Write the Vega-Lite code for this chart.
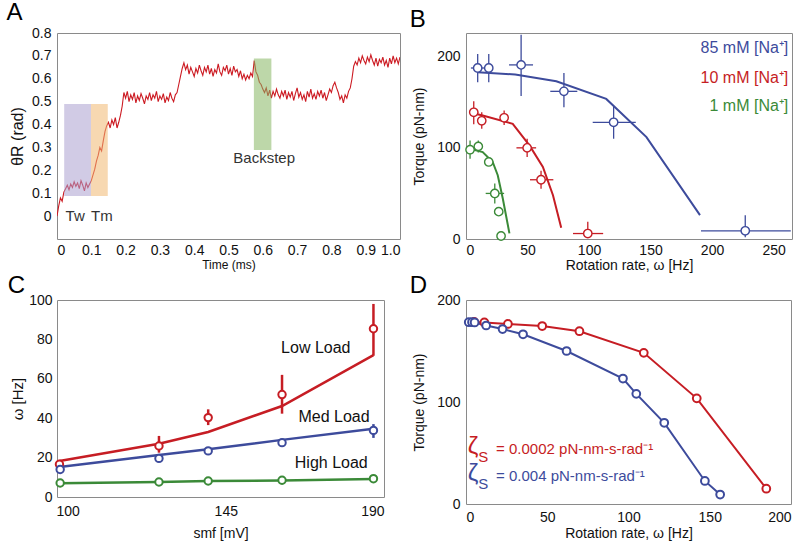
{
"$schema":"https://vega.github.io/schema/vega-lite/v6.json",
"background":"white",
"padding":{"left":6,"top":0,"right":3,"bottom":0},
"resolve":{"scale":{"color":"independent"}},
"config":{"font":"Liberation Sans","view":{"stroke":"#8a8a8a","strokeWidth":1},
"axis":{"domain":false,"ticks":false,"tickSize":0,"grid":false,"labelOverlap":false,"tickCount":20,"labelFont":"Liberation Sans","labelFontSize":14,"labelColor":"#111","titleFont":"Liberation Sans","titleFontWeight":"normal","titleFontSize":14,"titleColor":"#111","labelPadding":6},
"title":{"anchor":"start","frame":"bounds","fontSize":24,"fontWeight":"normal","font":"Liberation Sans","color":"#000","offset":1,"dx":-3},
"text":{"font":"Liberation Sans"}},
"datasets":{
"trace":[{"t":0.000,"v":0.000},{"t":0.005,"v":0.045},{"t":0.010,"v":0.080},{"t":0.015,"v":0.065},{"t":0.020,"v":0.105},{"t":0.025,"v":0.120},{"t":0.030,"v":0.135},{"t":0.035,"v":0.115},{"t":0.040,"v":0.140},{"t":0.045,"v":0.125},{"t":0.050,"v":0.150},{"t":0.055,"v":0.130},{"t":0.060,"v":0.145},{"t":0.065,"v":0.120},{"t":0.070,"v":0.155},{"t":0.075,"v":0.135},{"t":0.080,"v":0.110},{"t":0.085,"v":0.145},{"t":0.090,"v":0.125},{"t":0.095,"v":0.140},{"t":0.100,"v":0.155},{"t":0.105,"v":0.180},{"t":0.110,"v":0.205},{"t":0.115,"v":0.240},{"t":0.120,"v":0.265},{"t":0.125,"v":0.300},{"t":0.130,"v":0.285},{"t":0.135,"v":0.330},{"t":0.140,"v":0.370},{"t":0.145,"v":0.395},{"t":0.150,"v":0.410},{"t":0.155,"v":0.385},{"t":0.160,"v":0.420},{"t":0.165,"v":0.400},{"t":0.170,"v":0.430},{"t":0.175,"v":0.385},{"t":0.180,"v":0.410},{"t":0.185,"v":0.440},{"t":0.190,"v":0.480},{"t":0.195,"v":0.540},{"t":0.200,"v":0.515},{"t":0.205,"v":0.545},{"t":0.210,"v":0.500},{"t":0.215,"v":0.530},{"t":0.220,"v":0.510},{"t":0.225,"v":0.540},{"t":0.230,"v":0.495},{"t":0.235,"v":0.525},{"t":0.240,"v":0.505},{"t":0.245,"v":0.535},{"t":0.250,"v":0.515},{"t":0.255,"v":0.490},{"t":0.260,"v":0.525},{"t":0.265,"v":0.510},{"t":0.270,"v":0.540},{"t":0.275,"v":0.505},{"t":0.280,"v":0.530},{"t":0.285,"v":0.515},{"t":0.290,"v":0.545},{"t":0.295,"v":0.500},{"t":0.300,"v":0.525},{"t":0.305,"v":0.510},{"t":0.310,"v":0.535},{"t":0.315,"v":0.495},{"t":0.320,"v":0.520},{"t":0.325,"v":0.505},{"t":0.330,"v":0.540},{"t":0.335,"v":0.515},{"t":0.340,"v":0.500},{"t":0.345,"v":0.530},{"t":0.350,"v":0.540},{"t":0.355,"v":0.575},{"t":0.360,"v":0.610},{"t":0.365,"v":0.645},{"t":0.370,"v":0.670},{"t":0.375,"v":0.640},{"t":0.380,"v":0.660},{"t":0.385,"v":0.620},{"t":0.390,"v":0.650},{"t":0.395,"v":0.630},{"t":0.400,"v":0.610},{"t":0.405,"v":0.645},{"t":0.410,"v":0.625},{"t":0.415,"v":0.660},{"t":0.420,"v":0.635},{"t":0.425,"v":0.615},{"t":0.430,"v":0.650},{"t":0.435,"v":0.630},{"t":0.440,"v":0.660},{"t":0.445,"v":0.620},{"t":0.450,"v":0.645},{"t":0.455,"v":0.610},{"t":0.460,"v":0.640},{"t":0.465,"v":0.625},{"t":0.470,"v":0.665},{"t":0.475,"v":0.630},{"t":0.480,"v":0.615},{"t":0.485,"v":0.650},{"t":0.490,"v":0.635},{"t":0.495,"v":0.660},{"t":0.500,"v":0.620},{"t":0.505,"v":0.645},{"t":0.510,"v":0.615},{"t":0.515,"v":0.655},{"t":0.520,"v":0.630},{"t":0.525,"v":0.640},{"t":0.530,"v":0.610},{"t":0.535,"v":0.635},{"t":0.540,"v":0.600},{"t":0.545,"v":0.620},{"t":0.550,"v":0.595},{"t":0.555,"v":0.615},{"t":0.560,"v":0.600},{"t":0.565,"v":0.625},{"t":0.570,"v":0.610},{"t":0.575,"v":0.680},{"t":0.580,"v":0.630},{"t":0.585,"v":0.615},{"t":0.590,"v":0.585},{"t":0.595,"v":0.575},{"t":0.600,"v":0.555},{"t":0.605,"v":0.540},{"t":0.610,"v":0.560},{"t":0.615,"v":0.525},{"t":0.620,"v":0.550},{"t":0.625,"v":0.515},{"t":0.630,"v":0.545},{"t":0.635,"v":0.525},{"t":0.640,"v":0.555},{"t":0.645,"v":0.530},{"t":0.650,"v":0.515},{"t":0.655,"v":0.545},{"t":0.660,"v":0.525},{"t":0.665,"v":0.550},{"t":0.670,"v":0.510},{"t":0.675,"v":0.540},{"t":0.680,"v":0.520},{"t":0.685,"v":0.545},{"t":0.690,"v":0.505},{"t":0.695,"v":0.535},{"t":0.700,"v":0.560},{"t":0.705,"v":0.520},{"t":0.710,"v":0.540},{"t":0.715,"v":0.510},{"t":0.720,"v":0.530},{"t":0.725,"v":0.500},{"t":0.730,"v":0.545},{"t":0.735,"v":0.520},{"t":0.740,"v":0.555},{"t":0.745,"v":0.515},{"t":0.750,"v":0.535},{"t":0.755,"v":0.510},{"t":0.760,"v":0.545},{"t":0.765,"v":0.525},{"t":0.770,"v":0.550},{"t":0.775,"v":0.515},{"t":0.780,"v":0.540},{"t":0.785,"v":0.505},{"t":0.790,"v":0.530},{"t":0.795,"v":0.555},{"t":0.800,"v":0.540},{"t":0.805,"v":0.570},{"t":0.810,"v":0.585},{"t":0.815,"v":0.560},{"t":0.820,"v":0.540},{"t":0.825,"v":0.510},{"t":0.830,"v":0.525},{"t":0.835,"v":0.495},{"t":0.840,"v":0.530},{"t":0.845,"v":0.515},{"t":0.850,"v":0.545},{"t":0.855,"v":0.560},{"t":0.860,"v":0.600},{"t":0.865,"v":0.655},{"t":0.870,"v":0.675},{"t":0.875,"v":0.660},{"t":0.880,"v":0.690},{"t":0.885,"v":0.670},{"t":0.890,"v":0.700},{"t":0.895,"v":0.680},{"t":0.900,"v":0.665},{"t":0.905,"v":0.695},{"t":0.910,"v":0.675},{"t":0.915,"v":0.705},{"t":0.920,"v":0.680},{"t":0.925,"v":0.660},{"t":0.930,"v":0.690},{"t":0.935,"v":0.655},{"t":0.940,"v":0.685},{"t":0.945,"v":0.670},{"t":0.950,"v":0.695},{"t":0.955,"v":0.660},{"t":0.960,"v":0.680},{"t":0.965,"v":0.650},{"t":0.970,"v":0.690},{"t":0.975,"v":0.665},{"t":0.980,"v":0.700},{"t":0.985,"v":0.670},{"t":0.990,"v":0.690},{"t":0.995,"v":0.665},{"t":1.000,"v":0.695}],
"boxes":[{"k":"Tw","x1":0.021,"x2":0.099,"y1":0.088,"y2":0.49},{"k":"Tm","x1":0.099,"x2":0.148,"y1":0.088,"y2":0.49},{"k":"Back","x1":0.574,"x2":0.625,"y1":0.289,"y2":0.689}],
"alabels":[{"t":0.053,"v":0.0,"s":"Tw"},{"t":0.131,"v":0.0,"s":"Tm"},{"t":0.604,"v":0.255,"s":"Backstep"}],
"bpts":[
{"s":"85","x":9.5,"y":187.6,"xl":4,"xh":15,"yl":172,"yh":203},
{"s":"85","x":18.5,"y":187.6,"xl":18.5,"xh":18.5,"yl":172,"yh":203},
{"s":"85","x":44.8,"y":191,"xl":35,"xh":54.5,"yl":157,"yh":224},
{"s":"85","x":79.6,"y":162,"xl":68.5,"xh":90.5,"yl":144.6,"yh":182},
{"s":"85","x":120,"y":128,"xl":103,"xh":138,"yl":110,"yh":145.7},
{"s":"85","x":227,"y":9,"xl":191,"xh":264,"yl":2,"yh":26},
{"s":"10","x":6.3,"y":139,"xl":3,"xh":10,"yl":126,"yh":151},
{"s":"10","x":12.8,"y":129.7,"xl":12.8,"xh":12.8,"yl":121,"yh":139},
{"s":"10","x":31,"y":133,"xl":28,"xh":34,"yl":125,"yh":141},
{"s":"10","x":49.7,"y":100,"xl":41,"xh":57,"yl":90,"yh":110},
{"s":"10","x":61,"y":65,"xl":52,"xh":71,"yl":55,"yh":75},
{"s":"10","x":99,"y":6,"xl":87,"xh":111.5,"yl":1,"yh":19},
{"s":"1","x":3.3,"y":98,"xl":1,"xh":6,"yl":88,"yh":108},
{"s":"1","x":10,"y":101.6,"xl":10,"xh":10,"yl":95,"yh":108},
{"s":"1","x":18.5,"y":84.5,"xl":16,"xh":21,"yl":80,"yh":89},
{"s":"1","x":23.4,"y":50,"xl":16,"xh":31,"yl":39,"yh":61},
{"s":"1","x":26.6,"y":30,"xl":26.6,"xh":26.6,"yl":30,"yh":30},
{"s":"1","x":28.5,"y":3.3,"xl":28.5,"xh":28.5,"yl":3.3,"yh":3.3}],
"blines":[
{"s":"85","o":1,"x":9.5,"y":183},{"s":"85","o":2,"x":40,"y":180.5},{"s":"85","o":3,"x":73.4,"y":173},{"s":"85","o":4,"x":114,"y":153.7},{"s":"85","o":5,"x":146.7,"y":111.8},{"s":"85","o":6,"x":190.2,"y":26.2},
{"s":"10","o":1,"x":4.1,"y":138.4},{"s":"10","o":2,"x":13.6,"y":135.5},{"s":"10","o":3,"x":38,"y":126.4},{"s":"10","o":4,"x":51.6,"y":102.7},{"s":"10","o":5,"x":62.5,"y":79},{"s":"10","o":6,"x":70.7,"y":48},{"s":"10","o":7,"x":77.4,"y":12.4},
{"s":"1","o":1,"x":3.3,"y":99},{"s":"1","o":2,"x":13.6,"y":95.4},{"s":"1","o":3,"x":21.7,"y":84.5},{"s":"1","o":4,"x":25.8,"y":70},{"s":"1","o":5,"x":29.9,"y":44.4},{"s":"1","o":6,"x":35.3,"y":6.2}],
"blegend":[{"s":"85","x":262,"y":210,"t":"85 mM [Na⁺]"},{"s":"10","x":262,"y":177,"t":"10 mM [Na⁺]"},{"s":"1","x":262,"y":146,"t":"1 mM [Na⁺]"}],
"cpts":[
{"s":"Low","x":97.7,"y":16.6,"yl":16.6,"yh":16.6},{"s":"Low","x":126,"y":25.9,"yl":22.5,"yh":31},{"s":"Low","x":140,"y":40.3,"yl":36.5,"yh":44.5},{"s":"Low","x":161,"y":52,"yl":42.3,"yh":62},{"s":"Low","x":187,"y":85.4,"yl":71.7,"yh":98},
{"s":"Med","x":97.9,"y":14,"yl":12.3,"yh":15.7},{"s":"Med","x":126,"y":19.6,"yl":19.6,"yh":19.6},{"s":"Med","x":140,"y":23.4,"yl":23.4,"yh":23.4},{"s":"Med","x":161,"y":27.6,"yl":27.6,"yh":27.6},{"s":"Med","x":187,"y":33.8,"yl":30,"yh":37},
{"s":"High","x":97.9,"y":7.1,"yl":7.1,"yh":7.1},{"s":"High","x":126,"y":7.6,"yl":7.6,"yh":7.6},{"s":"High","x":140,"y":8.1,"yl":8.1,"yh":8.1},{"s":"High","x":161,"y":8.5,"yl":8.5,"yh":8.5},{"s":"High","x":187,"y":9.3,"yl":9.3,"yh":9.3}],
"clines":[
{"s":"Low","x":97.7,"y":18.3},{"s":"Low","x":126,"y":27},{"s":"Low","x":140,"y":33},{"s":"Low","x":161,"y":46.2},{"s":"Low","x":187,"y":72},
{"s":"Med","x":97.7,"y":15.2},{"s":"Med","x":126,"y":21.3},{"s":"Med","x":140,"y":24.2},{"s":"Med","x":161,"y":29},{"s":"Med","x":187,"y":34.7},
{"s":"High","x":97.7,"y":7.0},{"s":"High","x":126,"y":7.6},{"s":"High","x":140,"y":8.1},{"s":"High","x":161,"y":8.4},{"s":"High","x":187,"y":9.1}],
"clabels":[{"x":170.6,"y":75.5,"t":"Low Load"},{"x":175.8,"y":40.8,"t":"Med Load"},{"x":175,"y":17.4,"t":"High Load"}],
"dpts":[
{"s":"r","o":1,"x":5,"y":178.5},{"s":"r","o":2,"x":11.3,"y":178},{"s":"r","o":3,"x":25.8,"y":176.5},{"s":"r","o":4,"x":46.9,"y":174.5},{"s":"r","o":5,"x":69.8,"y":169.4},{"s":"r","o":6,"x":109.4,"y":148.2},{"s":"r","o":7,"x":142,"y":103.6},{"s":"r","o":8,"x":184.8,"y":15},
{"s":"b","o":1,"x":1.7,"y":178.2},{"s":"b","o":2,"x":3.7,"y":178.2},{"s":"b","o":3,"x":5.3,"y":178},{"s":"b","o":4,"x":12.4,"y":175},{"s":"b","o":5,"x":22.5,"y":171.5},{"s":"b","o":6,"x":35.1,"y":166.4},{"s":"b","o":7,"x":61.9,"y":150},{"s":"b","o":8,"x":96.6,"y":123},{"s":"b","o":9,"x":104.8,"y":108},{"s":"b","o":10,"x":122,"y":79.6},{"s":"b","o":11,"x":147,"y":22.6},{"s":"b","o":12,"x":156.4,"y":9.3}],
"dtext":[
{"s":"r","x":1,"y":56,"t":"ζ","f":24},{"s":"r","x":7.5,"y":46.5,"t":"S","f":15},{"s":"r","x":18.5,"y":53.5,"t":"= 0.0002 pN-nm-s-rad⁻¹","f":15},
{"s":"b","x":1,"y":29,"t":"ζ","f":24},{"s":"b","x":7.5,"y":19.5,"t":"S","f":15},{"s":"b","x":18.5,"y":27,"t":"= 0.004 pN-nm-s-rad⁻¹","f":15}]
},
"columns":2,
"spacing":{"row":0,"column":8},
"concat":[
{"width":343,"height":206,
"title":{"text":"A"},
"layer":[
{"data":{"name":"trace"},"mark":{"type":"line","color":"#cc1a22","strokeWidth":1.1,"clip":true},
"encoding":{"x":{"field":"t","type":"quantitative","scale":{"domain":[0,1],"nice":false},"axis":{"values":[0,0.1,0.2,0.3,0.4,0.5,0.6,0.7,0.8,0.9,1.0],"tickCount":20,"labelOverlap":false,"labelExpr":"datum.value==0?'0':format(datum.value,'.1f')","title":"Time (ms)","titleFontSize":12,"titlePadding":2,"labelFontSize":14,"labelPadding":4}},
"y":{"field":"v","type":"quantitative","scale":{"domain":[-0.1,0.8],"nice":false,"zero":false},"axis":{"values":[0,0.1,0.2,0.3,0.4,0.5,0.6,0.7,0.8],"tickCount":20,"labelOverlap":false,"labelExpr":"datum.value==0?'0':format(datum.value,'.1f')","title":"θR (rad)","titleFontSize":16,"labelFontSize":14,"titlePadding":6}}}},
{"data":{"name":"boxes"},"mark":{"type":"rect","opacity":0.55},
"encoding":{"x":{"field":"x1","type":"quantitative"},"x2":{"field":"x2"},"y":{"field":"y1","type":"quantitative"},"y2":{"field":"y2"},
"color":{"field":"k","type":"nominal","scale":{"domain":["Tw","Tm","Back"],"range":["#aca0cf","#f0b871","#86b662"]},"legend":null}}},
{"data":{"name":"alabels"},"mark":{"type":"text","fontSize":15,"color":"#333","baseline":"middle","align":"center"},
"encoding":{"x":{"field":"t","type":"quantitative"},"y":{"field":"v","type":"quantitative"},"text":{"field":"s"}}}
]},
{"width":326,"height":206,
"title":{"text":"B"},
"layer":[
{"data":{"name":"blines"},"mark":{"type":"line","strokeWidth":2},
"encoding":{"x":{"field":"x","type":"quantitative","scale":{"domain":[0,265],"nice":false},"axis":{"values":[0,50,100,150,200,250],"tickCount":20,"labelOverlap":false,"title":"Rotation rate, ω [Hz]","titlePadding":1,"labelPadding":4}},
"y":{"field":"y","type":"quantitative","scale":{"domain":[0,226],"nice":false},"axis":{"values":[0,100,200],"tickCount":20,"labelOverlap":false,"title":"Torque (pN-nm)","titlePadding":10}},
"order":{"field":"o"},
"color":{"field":"s","type":"nominal","scale":{"domain":["85","10","1"],"range":["#3d4b9c","#c61d24","#3b8a38"]},"legend":null}}},
{"data":{"name":"bpts"},"mark":{"type":"rule","strokeWidth":1.3,"clip":true},
"encoding":{"x":{"field":"x","type":"quantitative"},"y":{"field":"yl","type":"quantitative"},"y2":{"field":"yh"},"color":{"field":"s","type":"nominal","legend":null}}},
{"data":{"name":"bpts"},"mark":{"type":"rule","strokeWidth":1.3,"clip":true},
"encoding":{"x":{"field":"xl","type":"quantitative"},"x2":{"field":"xh"},"y":{"field":"y","type":"quantitative"},"color":{"field":"s","type":"nominal","legend":null}}},
{"data":{"name":"bpts"},"mark":{"type":"point","filled":false,"fill":"white","fillOpacity":1,"size":70,"strokeWidth":1.4,"opacity":1},
"encoding":{"x":{"field":"x","type":"quantitative"},"y":{"field":"y","type":"quantitative"},"color":{"field":"s","type":"nominal","legend":null}}},
{"data":{"name":"blegend"},"mark":{"type":"text","fontSize":16,"align":"right","baseline":"middle"},
"encoding":{"x":{"field":"x","type":"quantitative"},"y":{"field":"y","type":"quantitative"},"text":{"field":"t"},"color":{"field":"s","type":"nominal","legend":null}}}
]},
{"width":327,"height":197,
"title":{"text":"C","offset":-5},
"layer":[
{"data":{"name":"clines"},"mark":{"type":"line","strokeWidth":2.5},
"encoding":{"x":{"field":"x","type":"quantitative","scale":{"domain":[97,190],"nice":false,"zero":false},"axis":{"values":[100,145,190],"tickCount":20,"labelOverlap":false,"title":"smf [mV]","titlePadding":8,"labelPadding":7}},
"y":{"field":"y","type":"quantitative","scale":{"domain":[0,100],"nice":false},"axis":{"values":[0,20,40,60,80,100],"tickCount":20,"labelOverlap":false,"title":"ω [Hz]","titleFontSize":15,"titlePadding":3,"labelPadding":5}},
"color":{"field":"s","type":"nominal","scale":{"domain":["Low","Med","High"],"range":["#c61d24","#3d4b9c","#3b8a38"]},"legend":null}}},
{"data":{"name":"cpts"},"mark":{"type":"rule","strokeWidth":2.5},
"encoding":{"x":{"field":"x","type":"quantitative"},"y":{"field":"yl","type":"quantitative"},"y2":{"field":"yh"},"color":{"field":"s","type":"nominal","legend":null}}},
{"data":{"name":"cpts"},"mark":{"type":"point","filled":false,"fill":"white","fillOpacity":1,"size":55,"strokeWidth":2,"opacity":1},
"encoding":{"x":{"field":"x","type":"quantitative"},"y":{"field":"y","type":"quantitative"},"color":{"field":"s","type":"nominal","legend":null}}},
{"data":{"name":"clabels"},"mark":{"type":"text","fontSize":16,"align":"center","baseline":"middle","color":"#111"},
"encoding":{"x":{"field":"x","type":"quantitative"},"y":{"field":"y","type":"quantitative"},"text":{"field":"t"}}}
]},
{"width":325,"height":204,
"title":{"text":"D","offset":-5},
"layer":[
{"data":{"name":"dpts"},"mark":{"type":"line","strokeWidth":2},
"encoding":{"x":{"field":"x","type":"quantitative","scale":{"domain":[0,200],"nice":false},"axis":{"values":[0,50,100,150,200],"tickCount":20,"labelOverlap":false,"title":"Rotation rate, ω [Hz]","titlePadding":2,"labelPadding":6}},
"y":{"field":"y","type":"quantitative","scale":{"domain":[0,200],"nice":false},"axis":{"values":[0,100,200],"tickCount":20,"labelOverlap":false,"title":"Torque (pN-nm)","titlePadding":10}},
"order":{"field":"o"},
"color":{"field":"s","type":"nominal","scale":{"domain":["r","b"],"range":["#c61d24","#3d4b9c"]},"legend":null}}},
{"data":{"name":"dpts"},"mark":{"type":"point","filled":false,"fill":"white","fillOpacity":1,"size":60,"strokeWidth":2,"opacity":1},
"encoding":{"x":{"field":"x","type":"quantitative"},"y":{"field":"y","type":"quantitative"},"color":{"field":"s","type":"nominal","legend":null}}},
{"data":{"name":"dtext"},"mark":{"type":"text","align":"left","baseline":"middle"},
"encoding":{"x":{"field":"x","type":"quantitative"},"y":{"field":"y","type":"quantitative"},"text":{"field":"t"},"size":{"field":"f","type":"quantitative","scale":null},"color":{"field":"s","type":"nominal","legend":null}}}
]}
]
}
